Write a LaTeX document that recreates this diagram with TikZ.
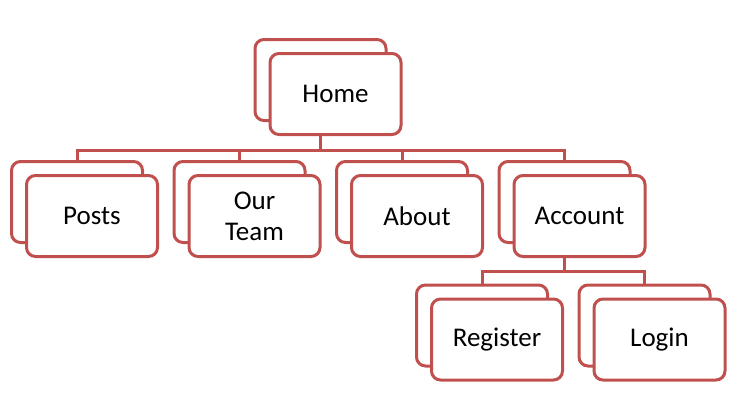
\documentclass[tikz,border=0pt]{standalone}
\usepackage{fontspec}
\setmainfont{Carlito}
\usetikzlibrary{calc}
\definecolor{boxred}{RGB}{192,80,77}

\tikzset{
  card/.style={draw=boxred, line width=3pt, rounded corners=9pt, fill=white,
    minimum width=131pt, minimum height=81pt, inner sep=0pt, align=center,
    font=\fontsize{27}{31}\selectfont},
  link/.style={draw=boxred, line width=3pt},
}

\begin{document}
\begin{tikzpicture}[x=1pt,y=-1pt]
  \useasboundingbox (0,0) rectangle (745,418);

  % each page: a card behind, then the labelled card in front
  \foreach \n/\x/\y/\t in {home/335.5/94/Home, posts/92/216/Posts,
      team/254.5/216/{Our\\Team}, about/417/216/About, account/579.5/216/Account,
      register/497/339.5/Register, login/659.5/339.5/Login}{
    \node[card] (b\n) at (\x-15,\y-14) {};
    \node[card] (\n) at (\x,\y) {\t};
  }

  \coordinate (bus1) at (0,150);
  \coordinate (bus2) at (0,271);

  % home to the first row
  \draw[link] (bhome.center |- home.south) -- (bhome.center |- bus1);
  \draw[link] (bposts.north) |- (bus1 -| baccount.north) -- (baccount.north);
  \foreach \n in {team,about}
    \draw[link] (b\n.north |- bus1) -- (b\n.north);

  % account to the second row
  \draw[link] (baccount.center |- account.south) -- (baccount.center |- bus2);
  \draw[link] (bregister.north) |- (bus2 -| blogin.north) -- (blogin.north);
\end{tikzpicture}
\end{document}
